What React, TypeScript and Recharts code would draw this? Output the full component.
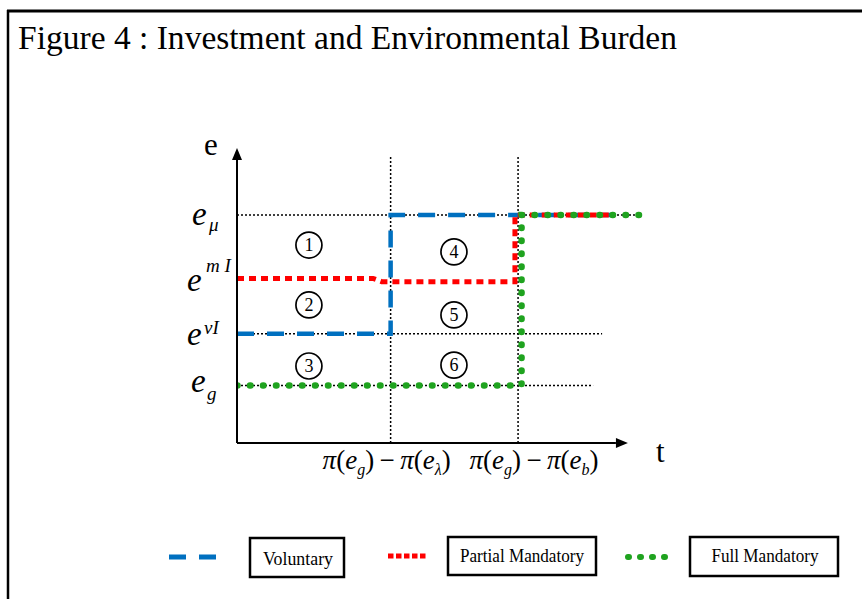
import { LineChart, Line, XAxis, YAxis, ReferenceLine, ReferenceDot } from "recharts";

const W = 862;
const H = 599;
const SERIF = '"Liberation Serif", "Times New Roman", serif';

// e axis levels (0-100 scale), bottom to top
const levelKeys = ["eg", "evI", "emI", "eMu"];
const levelValues = [19.5, 37, 55.8, 77.3];

// t axis thresholds (0-110 scale)
const thresholdValues = [39.3, 71.9];
const thresholdTop = 97;

// black dotted guides at the levels
const guideLevels = [19.5, 37, 77.3];
const guideEnds = [91.1, 93.4, 103.1];

// policy paths
const voluntaryX = [0, 39.3, 39.3, 96.2];
const voluntaryY = [37, 37, 77.3, 77.3];
const partialX = [0, 34.8, 37, 71.1, 71.1, 95.7];
const partialY = [55.8, 55.8, 54.7, 54.7, 77.3, 77.3];
const fullX = [0, 72.8, 72.8, 103.1];
const fullY = [19.5, 19.5, 77.3, 77.3];

// numbered regions
const regionIds = ["1", "2", "3", "4", "5", "6"];
const regionX = [18.4, 18.4, 18.4, 55.5, 55.5, 55.5];
const regionY = [67.1, 46.8, 26.1, 64.8, 43.4, 26.4];

const zip = (xs: number[], ys: number[]) => xs.map((x, i) => ({ x, y: ys[i] }));

const BLUE = "#0070C0";
const RED = "#FF0000";
const GREEN = "#1FA31F";

function Arrow(props: any) {
  const { x1, y1, x2, y2, label, lx, ly } = props;
  const dx = x2 - x1;
  const dy = y2 - y1;
  const len = Math.hypot(dx, dy) || 1;
  const ux = dx / len;
  const uy = dy / len;
  const bx = x2 - ux * 12;
  const by = y2 - uy * 12;
  const px = -uy * 5;
  const py = ux * 5;
  return (
    <g>
      <line x1={x1} y1={y1} x2={bx} y2={by} stroke="#000" strokeWidth={2} />
      <polygon points={`${x2},${y2} ${bx + px},${by + py} ${bx - px},${by - py}`} fill="#000" />
      <text x={x2 + lx} y={y2 + ly} fontFamily={SERIF} fontSize={31} fill="#000">
        {label}
      </text>
    </g>
  );
}

function YTick(props: any) {
  const { y, payload } = props;
  const k = levelKeys[levelValues.indexOf(payload.value)];
  const eStyle = { fontFamily: SERIF, fontStyle: "italic" as const, fill: "#000" };
  if (k === "eMu")
    return (
      <g>
        <text x={192} y={y + 10} fontSize={33} {...eStyle}>e</text>
        <text x={209} y={y + 16} fontSize={19} {...eStyle}>μ</text>
      </g>
    );
  if (k === "emI")
    return (
      <g>
        <text x={187} y={y + 13} fontSize={33} {...eStyle}>e</text>
        <text x={206} y={y - 6} fontSize={19} {...eStyle}>m I</text>
      </g>
    );
  if (k === "evI")
    return (
      <g>
        <text x={187} y={y + 11} fontSize={33} {...eStyle}>e</text>
        <text x={204} y={y} fontSize={19} {...eStyle}>vI</text>
      </g>
    );
  return (
    <g>
      <text x={191} y={y + 7} fontSize={33} {...eStyle}>e</text>
      <text x={207} y={y + 15} fontSize={19} {...eStyle}>g</text>
    </g>
  );
}

const xLabelSubs = ["λ", "b"];
const xLabelShift = [-4, 16];

function XTick(props: any) {
  const { x, payload } = props;
  const i = thresholdValues.indexOf(payload.value);
  const it = { fontStyle: "italic" as const };
  return (
    <text x={x + xLabelShift[i]} y={469} textAnchor="middle" fontFamily={SERIF} fontSize={27} fill="#000">
      <tspan {...it}>π</tspan>
      <tspan>(</tspan>
      <tspan {...it}>e</tspan>
      <tspan {...it} fontSize={16} dy={6}>g</tspan>
      <tspan dy={-6}>){"\u2009"}−{"\u2009"}</tspan>
      <tspan {...it}>π</tspan>
      <tspan>(</tspan>
      <tspan {...it}>e</tspan>
      <tspan {...it} fontSize={16} dy={6}>{xLabelSubs[i]}</tspan>
      <tspan dy={-6}>)</tspan>
    </text>
  );
}

function Overlay() {
  return (
    <svg width={W} height={H} style={{ position: "absolute", left: 0, top: 0, pointerEvents: "none" }}>
      <line x1={7} y1={11} x2={W} y2={11} stroke="#000" strokeWidth={3} />
      <line x1={8} y1={10} x2={8} y2={H} stroke="#000" strokeWidth={2.5} />
      <text x={18} y={49} fontFamily={SERIF} fontSize={34} textLength={659} lengthAdjust="spacingAndGlyphs" fill="#000">
        Figure 4 : Investment and Environmental Burden
      </text>

      <line x1={169} y1={557} x2={216} y2={557} stroke={BLUE} strokeWidth={5} strokeDasharray="17 13" />
      <rect x={250} y={538} width={94} height={39} fill="#fff" stroke="#000" strokeWidth={2.5} />
      <text x={298} y={565} textAnchor="middle" fontFamily={SERIF} fontSize={18} textLength={70} lengthAdjust="spacingAndGlyphs" fill="#000">Voluntary</text>

      <line x1={388} y1={556} x2={428} y2={556} stroke={RED} strokeWidth={5} strokeDasharray="5.5 2.5" />
      <rect x={448} y={537} width={148} height={38} fill="#fff" stroke="#000" strokeWidth={2.5} />
      <text x={522} y={562} textAnchor="middle" fontFamily={SERIF} fontSize={18} textLength={124} lengthAdjust="spacingAndGlyphs" fill="#000">Partial Mandatory</text>

      <line x1={628} y1={557} x2={667} y2={557} stroke={GREEN} strokeWidth={6} strokeLinecap="round" strokeDasharray="1 11" />
      <rect x={690} y={537} width={148} height={39} fill="#fff" stroke="#000" strokeWidth={2.5} />
      <text x={765} y={562} textAnchor="middle" fontFamily={SERIF} fontSize={18} textLength={107} lengthAdjust="spacingAndGlyphs" fill="#000">Full Mandatory</text>
    </svg>
  );
}

export default function App() {
  return (
    <div style={{ position: "absolute", left: 0, top: 0, width: W, height: H, background: "#fff" }}>
      <LineChart width={W} height={H} margin={{ top: 148, right: 195, bottom: 126, left: 177 }}>
        <XAxis
          type="number"
          dataKey="x"
          domain={[0, 110]}
          ticks={thresholdValues}
          tick={<XTick />}
          axisLine={false}
          tickLine={false}
          height={30}
          allowDataOverflow
        />
        <YAxis
          type="number"
          domain={[0, 100]}
          ticks={levelValues}
          tick={<YTick />}
          axisLine={false}
          tickLine={false}
          width={60}
          allowDataOverflow
        />

        {guideLevels.map((v, i) => (
          <ReferenceLine
            key={"g" + i}
            segment={[{ x: 0, y: v }, { x: guideEnds[i], y: v }]}
            stroke="#000"
            strokeWidth={1.5}
            strokeDasharray="2 2"
          />
        ))}
        {thresholdValues.map((v, i) => (
          <ReferenceLine
            key={"t" + i}
            segment={[{ x: v, y: 0 }, { x: v, y: thresholdTop }]}
            stroke="#000"
            strokeWidth={1.5}
            strokeDasharray="2 2"
          />
        ))}

        <Line data={zip(voluntaryX, voluntaryY)} dataKey="y" type="linear" stroke={BLUE} strokeWidth={4.5} strokeDasharray="17 13" dot={false} isAnimationActive={false} />
        <Line data={zip(partialX, partialY)} dataKey="y" type="linear" stroke={RED} strokeWidth={5} strokeDasharray="7 5" dot={false} isAnimationActive={false} />
        <Line data={zip(fullX, fullY)} dataKey="y" type="linear" stroke={GREEN} strokeWidth={6.5} strokeLinecap="round" strokeDasharray="0.5 12.5" dot={false} isAnimationActive={false} />

        <ReferenceLine
          segment={[{ x: 0, y: 0 }, { x: 0, y: 100 }]}
          shape={(p: any) => <Arrow {...p} label="e" lx={-33} ly={7} />}
        />
        <ReferenceLine
          segment={[{ x: 0, y: 0 }, { x: 100, y: 0 }]}
          shape={(p: any) => <Arrow {...p} label="t" lx={28} ly={19} />}
        />

        {regionIds.map((id, i) => (
          <ReferenceDot
            key={"r" + id}
            x={regionX[i]}
            y={regionY[i]}
            r={13}
            shape={(p: any) => (
              <g>
                <circle cx={p.cx} cy={p.cy} r={13} fill="#fff" stroke="#000" strokeWidth={1.7} />
                <text x={p.cx} y={p.cy + 6} textAnchor="middle" fontFamily={SERIF} fontSize={18} fill="#000">
                  {id}
                </text>
              </g>
            )}
          />
        ))}
      </LineChart>
      <Overlay />
    </div>
  );
}
